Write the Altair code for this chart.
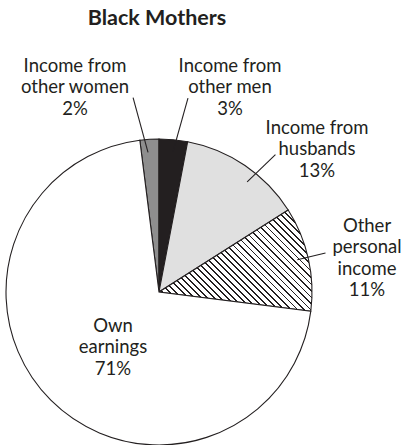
import math
import altair as alt
import pandas as pd

# ---------------- data ----------------
categories = [
    "Income from other women",
    "Income from other men",
    "Income from husbands",
    "Other personal income",
    "Own earnings",
]
shares = [2, 3, 13, 11, 71]
label_lines = [
    ["Income from", "other women", "2%"],
    ["Income from", "other men", "3%"],
    ["Income from", "husbands", "13%"],
    ["Other", "personal", "income", "11%"],
    ["Own", "earnings", "71%"],
]
chart_title = "Black Mothers"

# ---------------- layout / style ----------------
W, H = 404, 445
CX, CY, R = 159, 292, 153
START_TURN = -0.02          # first slice starts slightly left of 12 o'clock
INK = "#231f20"
fills = ["#8e8e8e", INK, "#e0e0e0", "#ffffff", "#ffffff"]
FONT = "Lato"
FS = 18.5
CAP = 0.72 * FS
LINE_H = 21.5
# cap-centre of first label line, relative to pie centre
label_offsets = [(-84, -227), (71, -227), (158, -165), (208, -67), (-46, 33)]
# leader lines: (inner angle deg, inner r), (outer angle deg, outer r)
leaders = [
    ((-4.5, 140), (-7.6, 196)),
    ((5.7, 141), (8.5, 196)),
    ((38.7, 141), (40.3, 180)),
    ((76.9, 142), (76.8, 171)),
    None,
]
TITLE_XY = (157, 17)
TITLE_FS = 21.5

# ---------------- slice table ----------------
df = pd.DataFrame({"cat": categories, "share": shares, "idx": range(len(shares))})

# ---------------- hatch gradient for "Other personal income" ----------------
cum = 0
for c, s in zip(categories, shares):
    if c == "Other personal income":
        a0 = 2 * math.pi * (START_TURN + cum / 100)
        a1 = 2 * math.pi * (START_TURN + (cum + s) / 100)
    cum += s
pts = [(0.0, 0.0), (R * math.sin(a0), -R * math.cos(a0)), (R * math.sin(a1), -R * math.cos(a1))]
for k in range(-4, 9):
    a = k * math.pi / 2
    if a0 < a < a1:
        pts.append((R * math.sin(a), -R * math.cos(a)))
bw = max(p[0] for p in pts) - min(p[0] for p in pts)
bh = max(p[1] for p in pts) - min(p[1] for p in pts)
r = bh / bw
kk = (1 + r) / (1 + r * r)
span = (bw + bh) / math.sqrt(2)
spacing = 4.6
lw = 1.3 / span
n = int(round(span / spacing))
stops = [{"offset": 0, "color": "#ffffff"}]
for i in range(n):
    o = (i + 0.5) / n
    lo, hi = max(0.0, o - lw / 2), min(1.0, o + lw / 2)
    stops += [
        {"offset": lo, "color": "#ffffff"},
        {"offset": lo, "color": INK},
        {"offset": hi, "color": INK},
        {"offset": hi, "color": "#ffffff"},
    ]
stops.append({"offset": 1, "color": "#ffffff"})
hatch = {"gradient": "linear", "x1": 0, "y1": 1, "x2": kk, "y2": 1 - kk * r, "stops": stops}

tau = 2 * math.pi
arcs = alt.Chart(df).mark_arc(radius=R, stroke=INK, strokeWidth=1.1).encode(
    x=alt.value(CX),
    y=alt.value(CY),
    theta=alt.Theta(
        "share:Q",
        stack=True,
        scale=alt.Scale(domain=[0, 100], range=[tau * (1 + START_TURN), tau * (2 + START_TURN)]),
    ),
    order=alt.Order("idx:Q", sort="ascending"),
    fill=alt.condition(
        alt.datum.cat == "Other personal income",
        alt.value(hatch),
        alt.Fill("cat:N", scale=alt.Scale(domain=categories, range=fills), legend=None),
    ),
)

xs = alt.Scale(domain=[0, W], range=[0, W], nice=False, zero=False)
ys = alt.Scale(domain=[0, H], range=[0, H], nice=False, zero=False)


def polar(angle_deg, rad):
    a = math.radians(angle_deg)
    return CX + rad * math.sin(a), CY - rad * math.cos(a)


lead_rows = []
for c, ld in zip(categories, leaders):
    if ld is None:
        continue
    (x1, y1), (x2, y2) = polar(*ld[0]), polar(*ld[1])
    lead_rows.append({"cat": c, "x": x1, "y": y1, "x2": x2, "y2": y2})
lead_df = pd.DataFrame(lead_rows)

rules = alt.Chart(lead_df).mark_rule(stroke=INK, strokeWidth=1.1).encode(
    x=alt.X("x:Q", scale=xs, axis=None),
    y=alt.Y("y:Q", scale=ys, axis=None),
    x2="x2:Q",
    y2="y2:Q",
)

text_rows = []
for c, lines, (dx, dy) in zip(categories, label_lines, label_offsets):
    text_rows.append({"cat": c, "t": "\n".join(lines), "x": CX + dx, "y": CY + dy + CAP / 2})
text_df = pd.DataFrame(text_rows)

labels = alt.Chart(text_df).mark_text(
    font=FONT, fontSize=FS, align="center", baseline="alphabetic", color=INK,
    lineBreak="\n", lineHeight=LINE_H,
).encode(
    x=alt.X("x:Q", scale=xs, axis=None),
    y=alt.Y("y:Q", scale=ys, axis=None),
    text="t:N",
)

title_df = pd.DataFrame({"t": [chart_title], "x": [TITLE_XY[0]], "y": [TITLE_XY[1] + 0.72 * TITLE_FS / 2]})
title = alt.Chart(title_df).mark_text(
    font=FONT, fontSize=TITLE_FS, fontWeight="bold", align="center", baseline="alphabetic", color=INK
).encode(
    x=alt.X("x:Q", scale=xs, axis=None),
    y=alt.Y("y:Q", scale=ys, axis=None),
    text="t:N",
)

chart = (
    alt.layer(arcs, rules, labels, title)
    .properties(width=W, height=H, padding=0, autosize="none", background="white")
    .configure_view(stroke=None)
)

chart.save("out.html", embed_options={"renderer": "svg", "actions": False})
